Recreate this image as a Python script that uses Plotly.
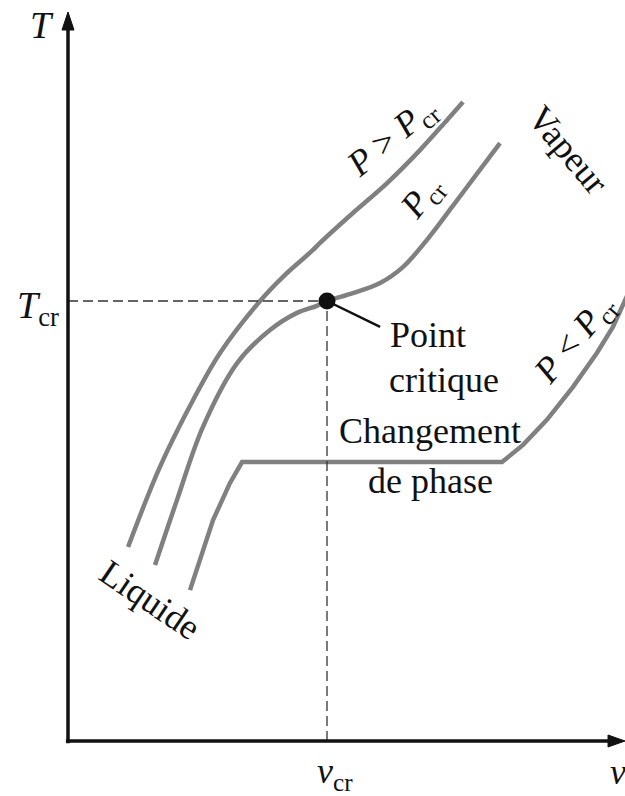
import plotly.graph_objects as go

# Reduced coordinates: v / v_cr and T / T_cr (critical point at 1, 1)
v_cr = 1.0
T_cr = 1.0

# Isobar P > P_cr (supercritical)
v_super = [0.232, 0.355, 0.483, 0.587, 0.734, 0.830, 0.946, 0.973, 1.100, 1.232, 1.359, 1.463, 1.525]
T_super = [0.441, 0.623, 0.775, 0.882, 0.995, 1.055, 1.116, 1.132, 1.200, 1.268, 1.343, 1.411, 1.452]

# Critical isobar P = P_cr
v_crit = [0.336, 0.421, 0.521, 0.653, 0.780, 0.884, 0.961, 1.000, 1.100, 1.205, 1.293, 1.386, 1.483, 1.575, 1.668]
T_crit = [0.400, 0.548, 0.714, 0.859, 0.934, 0.973, 0.989, 1.000, 1.018, 1.041, 1.077, 1.139, 1.214, 1.286, 1.359]

# Isobar P < P_cr with the liquid-vapour plateau
v_sub = [0.471, 0.560, 0.625, 0.672, 1.676, 1.757, 1.849, 1.950, 2.042, 2.104, 2.151, 2.178]
T_sub = [0.343, 0.502, 0.586, 0.634, 0.634, 0.673, 0.730, 0.805, 0.882, 0.941, 1.002, 1.036]

# Axis extents
V_MIN, V_MAX = -68 / 259, 557 / 259
T_MIN, T_MAX = -55 / 440, 741 / 440
V_TIP = V_MAX
T_TIP = 729 / 440

FONT = "Liberation Serif, Times New Roman, serif"
GRAY = "#808080"
INK = "#111111"

fig = go.Figure()

for vs, ts, shape in [(v_super, T_super, "spline"), (v_crit, T_crit, "spline"), (v_sub, T_sub, "linear")]:
    line = dict(color=GRAY, width=4.5, shape=shape)
    if shape == "spline":
        line["smoothing"] = 1.0
    fig.add_trace(go.Scatter(
        x=vs, y=ts, mode="lines", line=line,
        hoverinfo="skip", showlegend=False,
    ))

# Dashed guides to the critical point
fig.add_trace(go.Scatter(
    x=[0, v_cr], y=[T_cr, T_cr], mode="lines",
    line=dict(color="#333333", width=1.3, dash="10px,5px"),
    hoverinfo="skip", showlegend=False,
))
fig.add_trace(go.Scatter(
    x=[v_cr, v_cr], y=[0, T_cr], mode="lines",
    line=dict(color="#333333", width=1.3, dash="10px,5px"),
    hoverinfo="skip", showlegend=False,
))

# Leader line to the "Point critique" label
fig.add_trace(go.Scatter(
    x=[v_cr, 1.205], y=[T_cr, 0.941], mode="lines",
    line=dict(color=INK, width=2.5),
    hoverinfo="skip", showlegend=False,
))

# Critical point
fig.add_trace(go.Scatter(
    x=[v_cr], y=[T_cr], mode="markers",
    marker=dict(color=INK, size=17),
    hoverinfo="skip", showlegend=False,
))

# Axes with arrowheads
shapes = [
    dict(type="line", x0=-0.008, y0=0, x1=2.09, y1=0,
         line=dict(color=INK, width=3.5)),
    dict(type="line", x0=0, y0=-0.005, x1=0, y1=1.62,
         line=dict(color=INK, width=3.5)),
    dict(type="path", path=f"M 2.085,-0.0136 L {V_TIP},0 L 2.085,0.0136 Z",
         fillcolor=INK, line=dict(color=INK, width=1)),
    dict(type="path", path=f"M -0.0232,1.6159 L 0,{T_TIP} L 0.0232,1.6159 Z",
         fillcolor=INK, line=dict(color=INK, width=1)),
]


def label(text, x, y, size=36, angle=0, xanchor="center", yanchor="middle", align="center"):
    return dict(
        text=text, x=x, y=y, xref="x", yref="y", showarrow=False,
        textangle=angle, xanchor=xanchor, yanchor=yanchor, align=align,
        font=dict(family=FONT, size=size, color=INK),
    )


annotations = [
    label("<i>T</i>", -0.100, 1.627, size=38),
    label("<i>T</i><sub>cr</sub>", -0.028, 0.985, size=38, xanchor="right"),
    label("<i>v</i><sub>cr</sub>", 1.031, -0.073, size=36),
    label("<i>v</i>", 2.125, -0.070, size=36),
    label("<i>P</i> > <i>P</i><sub>cr</sub>", 1.251, 1.370, angle=-40),
    label("<i>P</i><sub>cr</sub>", 1.367, 1.234, angle=-52),
    label("Vapeur", 1.931, 1.343, angle=50),
    label("<i>P</i> < <i>P</i><sub>cr</sub>", 1.958, 0.911, angle=-50),
    label("Liquide", 0.317, 0.320, angle=34),
    label("Point", 1.236, 0.923, xanchor="left"),
    label("critique", 1.232, 0.820, xanchor="left"),
    label("Changement", 1.398, 0.705),
    label("de phase", 1.398, 0.591),
]

fig.update_layout(
    width=625, height=796,
    margin=dict(l=0, r=0, t=0, b=0),
    paper_bgcolor="white", plot_bgcolor="white",
    xaxis=dict(range=[V_MIN, V_MAX], visible=False, fixedrange=True),
    yaxis=dict(range=[T_MIN, T_MAX], visible=False, fixedrange=True),
    shapes=shapes,
    annotations=annotations,
    showlegend=False,
)

fig.write_html("out.html", config={"displayModeBar": False})
